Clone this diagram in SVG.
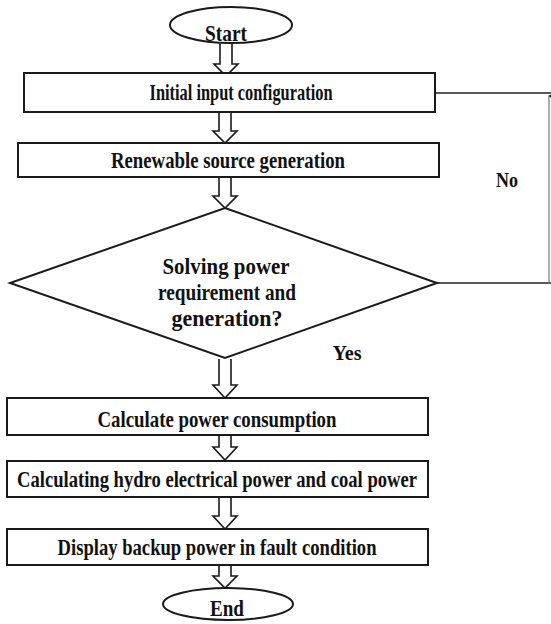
<svg xmlns="http://www.w3.org/2000/svg" width="551" height="624" viewBox="0 0 551 624">
<defs>
<style>
.box{fill:#fff;stroke:#1a1a1a;stroke-width:2}
.t{font-family:"Liberation Serif","Times New Roman",serif;font-weight:bold;font-size:23px;fill:#111}
.lbl{font-family:"Liberation Serif","Times New Roman",serif;font-weight:bold;font-size:20px;fill:#111}
.arr{fill:#fff;stroke:#1a1a1a;stroke-width:1.6;stroke-linejoin:miter}
.ln{fill:none;stroke:#222;stroke-width:1.6}
</style>
<marker id="up" markerWidth="8" markerHeight="8" refX="4" refY="1" orient="auto" markerUnits="userSpaceOnUse">
<path d="M0,8 L4,0 L8,8 Z" fill="#222"/>
</marker>
</defs>
<rect width="551" height="624" fill="#fff"/>
<g id="connectors">
<polyline class="arr" points="220,44 220,64 214,64 226,76 238,64 232,64 232,44"/>
<polyline class="arr" points="219,112 219,131 213,131 225,143 237,131 231,131 231,112"/>
<polyline class="arr" points="219,177 219,196 213,196 225,208 237,196 231,196 231,177"/>
<polyline class="arr" points="219,359 219,385 213,385 225,398 237,385 231,385 231,359"/>
<polyline class="arr" points="219,435 219,447 213,447 225,460 237,447 231,447 231,435"/>
<polyline class="arr" points="219,497 219,516 213,516 225,529 237,516 231,516 231,497"/>
<polyline class="arr" points="219,565 219,576 213,576 225,588 237,576 231,576 231,565"/>
<line class="ln" x1="437" y1="283" x2="551" y2="283"/>
<line class="ln" x1="435" y1="93" x2="551" y2="93"/>
<line x1="549" y1="283" x2="549" y2="96" stroke="#777" stroke-width="1.2" marker-end="url(#up)"/>
<text class="lbl" x="347" y="360" text-anchor="middle" textLength="29" lengthAdjust="spacingAndGlyphs">Yes</text>
<text class="lbl" x="507" y="187" text-anchor="middle" textLength="22" lengthAdjust="spacingAndGlyphs">No</text>
</g>
<g id="start">
<ellipse class="box" cx="231" cy="25" rx="61" ry="18"/>
<text class="t" x="226" y="41" text-anchor="middle" textLength="42" lengthAdjust="spacingAndGlyphs">Start</text>
</g>
<g id="initial">
<rect class="box" x="24" y="73" width="411" height="39"/>
<text class="t" x="241" y="100" text-anchor="middle" textLength="183" lengthAdjust="spacingAndGlyphs">Initial input configuration</text>
</g>
<g id="renewable">
<rect class="box" x="18" y="143" width="421" height="34"/>
<text class="t" x="228" y="168" text-anchor="middle" textLength="234" lengthAdjust="spacingAndGlyphs">Renewable source generation</text>
</g>
<g id="decision">
<polygon class="box" points="225,208 437,283 225,358 10,283"/>
<text class="t" x="226" y="274" text-anchor="middle" textLength="127" lengthAdjust="spacingAndGlyphs">Solving power</text>
<text class="t" x="227" y="300" text-anchor="middle" textLength="138" lengthAdjust="spacingAndGlyphs">requirement and</text>
<text class="t" x="227" y="326" text-anchor="middle" textLength="111" lengthAdjust="spacingAndGlyphs">generation?</text>
</g>
<g id="consumption">
<rect class="box" x="7" y="398" width="421" height="37"/>
<text class="t" x="217" y="427" text-anchor="middle" textLength="239" lengthAdjust="spacingAndGlyphs">Calculate power consumption</text>
</g>
<g id="hydro">
<rect class="box" x="7" y="461" width="421" height="36"/>
<text class="t" x="217" y="487" text-anchor="middle" textLength="400" lengthAdjust="spacingAndGlyphs">Calculating hydro electrical power and coal power</text>
</g>
<g id="display">
<rect class="box" x="7" y="529" width="421" height="36"/>
<text class="t" x="217" y="555" text-anchor="middle" textLength="319" lengthAdjust="spacingAndGlyphs">Display backup power in fault condition</text>
</g>
<g id="end">
<ellipse class="box" cx="228" cy="604" rx="65" ry="16"/>
<text class="t" x="227" y="616" text-anchor="middle" font-size="21" textLength="34" lengthAdjust="spacingAndGlyphs">End</text>
</g>
</svg>
